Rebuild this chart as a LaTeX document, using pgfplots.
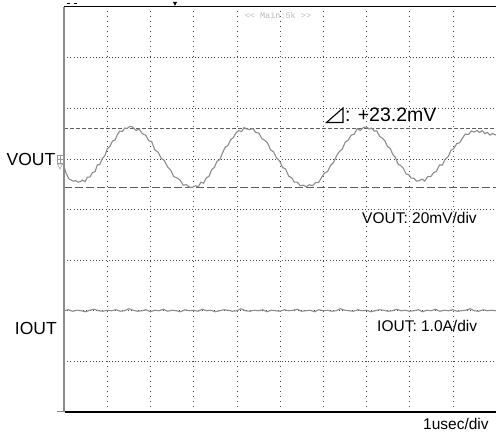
\documentclass[border=0pt]{standalone}
\usepackage{pgfplots}
\pgfplotsset{compat=1.18}
\usepackage{fontspec}
\setmainfont{Liberation Sans}
\newfontfamily\monofont{Liberation Mono}
\definecolor{trace}{RGB}{140,140,140}
\definecolor{gridc}{RGB}{70,70,70}
\definecolor{curs}{RGB}{95,95,95}
\definecolor{mainlbl}{RGB}{185,185,185}
\begin{document}
\begin{tikzpicture}[x=1pt,y=1pt]
\path[use as bounding box] (0,0) rectangle (496,439);
\begin{axis}[
  at={(64pt,27pt)}, anchor=south west,
  scale only axis, width=432pt, height=405pt,
  xmin=0, xmax=10, ymin=0, ymax=8,
  axis line style={draw=none}, ticks=none,
  clip=true,
]
% horizontal dotted grid
\draw[gridc, line width=0.6pt, dash pattern=on 0.6pt off 2.6pt] (axis cs:0,1) -- (axis cs:10,1);
\draw[gridc, line width=0.6pt, dash pattern=on 0.6pt off 2.6pt] (axis cs:0,2) -- (axis cs:10,2);
\draw[gridc, line width=0.6pt, dash pattern=on 0.6pt off 2.6pt] (axis cs:0,3) -- (axis cs:10,3);
\draw[gridc, line width=0.6pt, dash pattern=on 0.6pt off 2.6pt] (axis cs:0,4) -- (axis cs:10,4);
\draw[gridc, line width=0.6pt, dash pattern=on 0.6pt off 2.6pt] (axis cs:0,5) -- (axis cs:10,5);
\draw[gridc, line width=0.6pt, dash pattern=on 0.6pt off 2.6pt] (axis cs:0,6) -- (axis cs:10,6);
\draw[gridc, line width=0.6pt, dash pattern=on 0.6pt off 2.6pt] (axis cs:0,7) -- (axis cs:10,7);
% vertical dotted grid
\draw[gridc, line width=0.6pt, dash pattern=on 0.6pt off 4.4pt] (axis cs:1,0) -- (axis cs:1,8);
\draw[gridc, line width=0.6pt, dash pattern=on 0.6pt off 4.4pt] (axis cs:2,0) -- (axis cs:2,8);
\draw[gridc, line width=0.6pt, dash pattern=on 0.6pt off 4.4pt] (axis cs:3,0) -- (axis cs:3,8);
\draw[gridc, line width=0.6pt, dash pattern=on 0.6pt off 4.4pt] (axis cs:4,0) -- (axis cs:4,8);
\draw[gridc, line width=0.6pt, dash pattern=on 0.6pt off 4.4pt] (axis cs:5,0) -- (axis cs:5,8);
\draw[gridc, line width=0.6pt, dash pattern=on 0.6pt off 4.4pt] (axis cs:6,0) -- (axis cs:6,8);
\draw[gridc, line width=0.6pt, dash pattern=on 0.6pt off 4.4pt] (axis cs:7,0) -- (axis cs:7,8);
\draw[gridc, line width=0.6pt, dash pattern=on 0.6pt off 4.4pt] (axis cs:8,0) -- (axis cs:8,8);
\draw[gridc, line width=0.6pt, dash pattern=on 0.6pt off 4.4pt] (axis cs:9,0) -- (axis cs:9,8);
% cursors
\draw[curs, line width=0.9pt, dash pattern=on 4pt off 2pt] (axis cs:0,5.61) -- (axis cs:10,5.61);
\draw[curs, line width=1.3pt, dash pattern=on 8pt off 3pt] (axis cs:0,4.43) -- (axis cs:10,4.43);
% VOUT
\addplot[trace, line width=1.1pt, no marks] coordinates {
(0,4.86)(0.04,4.74)(0.08,4.66)(0.12,4.60)(0.17,4.58)(0.22,4.56)(0.27,4.57)(0.32,4.54)
(0.37,4.55)(0.43,4.58)(0.49,4.55)(0.54,4.64)(0.60,4.64)(0.66,4.73)(0.72,4.75)(0.77,4.88)(0.83,4.89)(0.89,5.01)(0.95,5.07)(1.00,5.20)(1.06,5.24)(1.12,5.35)(1.18,5.37)(1.23,5.47)(1.29,5.55)(1.35,5.54)(1.41,5.61)(1.46,5.60)(1.52,5.64)
(1.59,5.63)(1.67,5.56)(1.74,5.59)(1.81,5.50)(1.89,5.47)(1.96,5.36)(2.03,5.34)(2.10,5.18)(2.18,5.13)(2.25,5.01)(2.32,4.97)(2.40,4.84)(2.47,4.78)(2.54,4.65)(2.62,4.62)(2.69,4.58)(2.76,4.48)(2.83,4.49)(2.91,4.44)(2.98,4.44)
(3.04,4.47)(3.11,4.45)(3.17,4.54)(3.23,4.52)(3.29,4.62)(3.36,4.66)(3.42,4.79)(3.48,4.83)(3.54,4.95)(3.61,4.99)(3.67,5.12)(3.73,5.23)(3.79,5.26)(3.86,5.38)(3.92,5.42)(3.98,5.51)(4.04,5.56)(4.11,5.54)(4.17,5.62)(4.23,5.59)
(4.30,5.58)(4.37,5.60)(4.44,5.52)(4.51,5.51)(4.58,5.40)(4.64,5.37)(4.71,5.32)(4.78,5.18)(4.85,5.14)(4.92,5.02)(4.99,4.96)(5.06,4.83)(5.13,4.80)(5.20,4.66)(5.27,4.63)(5.33,4.54)(5.40,4.54)(5.47,4.47)(5.54,4.48)(5.61,4.45)
(5.68,4.49)(5.75,4.47)(5.82,4.53)(5.89,4.53)(5.96,4.63)(6.03,4.72)(6.10,4.75)(6.17,4.87)(6.24,4.93)(6.31,5.06)(6.38,5.15)(6.44,5.19)(6.51,5.33)(6.58,5.37)(6.65,5.47)(6.72,5.49)(6.79,5.60)(6.86,5.56)(6.93,5.62)(7.00,5.63)
(7.06,5.59)(7.12,5.61)(7.18,5.55)(7.24,5.55)(7.31,5.44)(7.37,5.41)(7.43,5.35)(7.49,5.24)(7.55,5.21)(7.61,5.09)(7.67,5.03)(7.73,4.90)(7.79,4.87)(7.85,4.82)(7.92,4.70)(7.98,4.69)(8.04,4.62)(8.10,4.62)(8.16,4.56)(8.22,4.57)
(8.29,4.60)(8.35,4.56)(8.42,4.65)(8.49,4.65)(8.56,4.73)(8.62,4.75)(8.69,4.88)(8.76,4.88)(8.82,4.99)(8.89,5.04)(8.96,5.17)(9.02,5.20)(9.09,5.30)(9.16,5.32)(9.23,5.42)(9.29,5.49)(9.36,5.48)(9.43,5.55)(9.49,5.53)(9.56,5.56)
(9.62,5.52)(9.68,5.56)(9.74,5.50)(9.80,5.52)(9.86,5.47)(9.92,5.50)(10.0,5.47)
};
% IOUT
\addplot[trace, line width=1.1pt, no marks] coordinates {
(0.0,2.00)(0.1,2.02)(0.2,1.99)(0.3,2.01)(0.4,2.00)(0.5,1.98)(0.6,2.01)(0.7,2.03)(0.8,2.00)(0.9,1.99)
(1.0,2.01)(1.1,2.00)(1.2,2.02)(1.3,1.99)(1.4,2.00)(1.5,2.04)(1.6,2.01)(1.7,1.99)(1.8,2.00)(1.9,2.02)
(2.0,1.98)(2.1,2.01)(2.2,2.00)(2.3,2.03)(2.4,1.99)(2.5,2.01)(2.6,2.00)(2.7,1.98)(2.8,2.02)(2.9,2.00)
(3.0,2.01)(3.1,1.99)(3.2,2.03)(3.3,2.00)(3.4,2.01)(3.5,1.98)(3.6,2.00)(3.7,2.02)(3.8,2.01)(3.9,1.99)
(4.0,2.00)(4.1,2.04)(4.2,2.00)(4.3,1.99)(4.4,2.01)(4.5,2.00)(4.6,2.02)(4.7,1.98)(4.8,2.01)(4.9,2.00)
(5.0,1.99)(5.1,2.02)(5.2,2.00)(5.3,2.01)(5.4,2.03)(5.5,1.99)(5.6,2.00)(5.7,2.01)(5.8,1.98)(5.9,2.02)
(6.0,2.00)(6.1,2.01)(6.2,1.99)(6.3,2.00)(6.4,2.04)(6.5,2.01)(6.6,2.00)(6.7,1.99)(6.8,2.02)(6.9,2.00)
(7.0,2.01)(7.1,1.98)(7.2,2.00)(7.3,2.02)(7.4,2.01)(7.5,1.99)(7.6,2.00)(7.7,2.03)(7.8,2.00)(7.9,2.01)
(8.0,1.99)(8.1,2.00)(8.2,2.02)(8.3,1.98)(8.4,2.01)(8.5,2.00)(8.6,2.03)(8.7,1.99)(8.8,2.01)(8.9,2.00)
(9.0,2.02)(9.1,1.99)(9.2,2.00)(9.3,2.01)(9.4,2.04)(9.5,2.00)(9.6,1.99)(9.7,2.02)(9.8,2.00)(9.9,2.01)(10.0,2.00)
};
\end{axis}
% frame
\draw[black!45, line width=1.4pt] (64,27) -- (64,432);
\draw[black, line width=1pt] (64,432) -- (496,432);
\draw[black, line width=1.2pt] (64.5,27) -- (496,27);
\draw[black!45, line width=1pt] (57,27) -- (64,27);
% top markers
\draw[black, line width=1pt] (67,435) -- (70,435);
\draw[black, line width=1pt] (74,435) -- (77,435);
\fill[black] (173,437) -- (177,437) -- (175,433) -- cycle;
% ground marker for VOUT
\draw[black!40, line width=0.6pt] (57,276) rectangle (63,284);
\draw[black!40, line width=0.6pt] (57,280) -- (63,280) (60,276) -- (60,284);
\draw[black!40, line width=0.6pt] (57.5,275) -- (62.5,275) -- (60,270) -- cycle;
% labels
\node[anchor=base east, inner sep=0pt, font=\fontsize{17.5}{18}\selectfont] at (55.5,273) {VOUT};
\node[anchor=base east, inner sep=0pt, font=\fontsize{17.5}{18}\selectfont] at (57,104) {IOUT};
\draw[black, line width=1.1pt, line join=miter] (326.5,316.5) -- (343,316.5) -- (343,331) -- cycle;
\node[anchor=base west, inner sep=0pt, font=\fontsize{19.5}{20}\selectfont] at (345,317) {: +23.2mV};
\node[anchor=base west, inner sep=0pt, font=\fontsize{15.5}{16}\selectfont] at (362,215) {VOUT: 20mV/div};
\node[anchor=base west, inner sep=0pt, font=\fontsize{15.5}{16}\selectfont] at (377,107) {IOUT: 1.0A/div};
\node[anchor=base west, inner sep=0pt, font=\fontsize{15.5}{16}\selectfont] at (423,9) {1usec/div};
\node[anchor=center, inner sep=0pt, text=mainlbl, font=\monofont\fontsize{8.5}{9}\selectfont] at (278,424) {<< Main:5k >>};
\end{tikzpicture}
\end{document}
